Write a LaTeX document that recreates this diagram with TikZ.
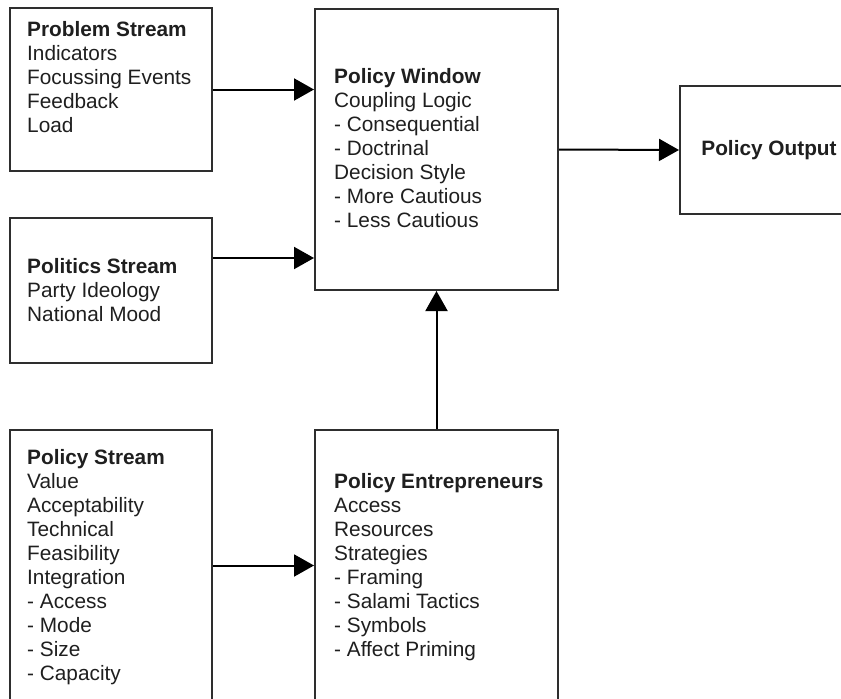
\documentclass[tikz,border=0pt]{standalone}
\usepackage{fontspec}
\setmainfont{Liberation Sans}
\usetikzlibrary{arrows.meta}
\begin{document}
\begin{tikzpicture}[x=1pt,y=-1pt,
  box/.style={draw=black!82, line width=2pt, fill=white, inner sep=0pt},
  txt/.style={font=\fontsize{20.8}{24}\selectfont, align=left, inner sep=0pt,
              anchor=north west, text=black!88},
  link/.style={draw=black, line width=2pt, -{Triangle[length=20pt,width=22pt]}}
]
\useasboundingbox (0,0) rectangle (841,699);

% boxes
\node[box, minimum width=202pt, minimum height=163pt] (prob) at (111,89.5) {};
\node[box, minimum width=202pt, minimum height=145pt] (pol)  at (111,290.5) {};
\node[box, minimum width=202pt, minimum height=271pt] (pstr) at (111,565.5) {};
\node[box, minimum width=243pt, minimum height=281pt] (win)  at (436.5,149.5) {};
\node[box, minimum width=243pt, minimum height=271pt] (ent)  at (436.5,565.5) {};
\node[box, minimum width=178pt, minimum height=128pt,
      font=\fontsize{20.8}{24}\selectfont\bfseries, text=black!88] (out) at (769,150) {Policy Output};

% box texts
\node[txt] (probtxt) at (27,19.2) {\strut\textbf{Problem Stream}\\Indicators\\Focussing Events\\Feedback\\Load};
\node[txt] (poltxt) at (27,256.2) {\strut\textbf{Politics Stream}\\Party Ideology\\National Mood};
\node[txt] (pstrtxt) at (27,447.2) {\strut\textbf{Policy Stream}\\Value\\Acceptability\\Technical\\Feasibility\\Integration\\- Access\\- Mode\\- Size\\- Capacity};
\node[txt] (wintxt) at (334,66.2) {\strut\textbf{Policy Window}\\Coupling Logic\\- Consequential\\- Doctrinal\\Decision Style\\- More Cautious\\- Less Cautious};
\node[txt] (enttxt) at (334,471.2) {\strut\textbf{Policy Entrepreneurs}\\Access\\Resources\\Strategies\\- Framing\\- Salami Tactics\\- Symbols\\- Affect Priming};

% connectors (the politics link leaves above the box centre)
\draw[link] (prob.east) -- (prob.east -| win.west);
\draw[link] ([yshift=32.5pt]pol.east) -- ([yshift=32.5pt]pol.east -| win.west);
\draw[link] (pstr.east) -- (ent.west);
\draw[link] (ent.north) -- (win.south);
\draw[link] (win.east) -- (out.west);
\end{tikzpicture}
\end{document}
